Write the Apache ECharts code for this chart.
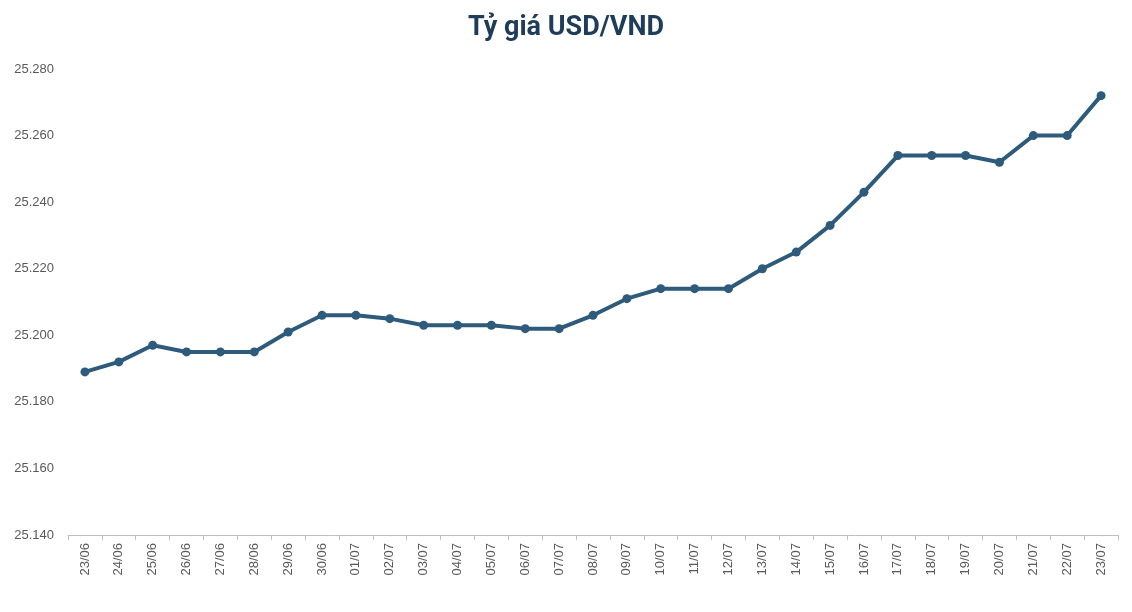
<!DOCTYPE html>
<html>
<head>
<meta charset="utf-8">
<script src="https://cdn.jsdelivr.net/npm/echarts@6/dist/echarts.min.js"></script>
<style>html,body{margin:0;background:#fff}#chart{width:1132px;height:612px}</style>
</head>
<body>
<div id="chart"></div>
<script>
const dates = ['23/06','24/06','25/06','26/06','27/06','28/06','29/06','30/06','01/07','02/07','03/07','04/07','05/07','06/07','07/07','08/07','09/07','10/07','11/07','12/07','13/07','14/07','15/07','16/07','17/07','18/07','19/07','20/07','21/07','22/07','23/07']
const rates = [25189,25192,25197,25195,25195,25195,25201,25206,25206,25205,25203,25203,25203,25202,25202,25206,25211,25214,25214,25214,25220,25225,25233,25243,25254,25254,25254,25252,25260,25260,25272]

const chart = echarts.init(document.getElementById('chart'))
chart.setOption({
  animation: false,
  title: {
    text: 'Tỷ giá USD/VND', left: 'center', top: 10,
    textStyle: { fontFamily: 'Roboto', fontSize: 27, fontWeight: 'bold', color: '#1f3d5a' }
  },
  grid: { left: 68, right: 14, top: 69, bottom: 77 },
  xAxis: {
    type: 'category', data: dates,
    axisLine: { lineStyle: { color: '#bfbfbf' } },
    axisTick: { show: true, alignWithLabel: false, lineStyle: { color: '#bfbfbf' } },
    axisLabel: { rotate: 90, color: '#595959', fontSize: 13, fontFamily: 'Liberation Sans' }
  },
  yAxis: {
    type: 'value', min: 25140, max: 25280, interval: 20,
    splitLine: { show: false },
    axisLabel: {
      color: '#595959', fontSize: 13, fontFamily: 'Liberation Sans', margin: 14,
      formatter: v => (v / 1000).toFixed(3)
    }
  },
  series: [{
    type: 'line', data: rates,
    symbol: 'circle', symbolSize: 9,
    lineStyle: { color: '#2e5a7c', width: 4 },
    itemStyle: { color: '#2e5a7c' }
  }]
})
</script>
</body>
</html>
